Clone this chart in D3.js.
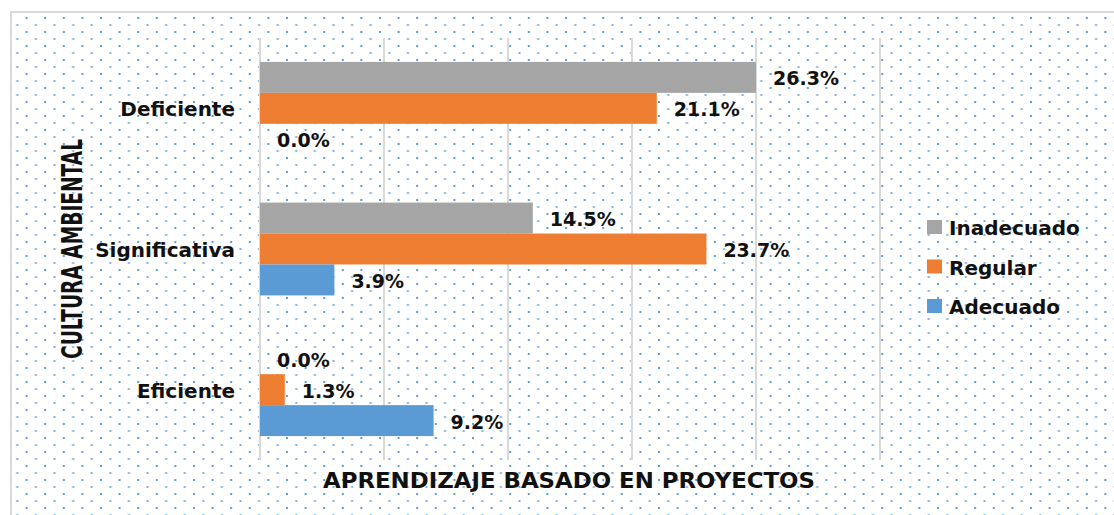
<!DOCTYPE html>
<meta charset="utf-8">
<style>
    body {margin: 0; background: #fff;}
    text {font-family: "DejaVu Sans", Verdana, sans-serif; font-weight: bold; fill: #111;}
</style>
<body>
<svg width="1114" height="515"></svg>
<script src="https://d3js.org/d3.v7.min.js"></script>
<script>

// counts out of n = 76 students, labels show the percentage
var total = 76;
var categories = ["Deficiente", "Significativa", "Eficiente"];
var series = ["Inadecuado", "Regular", "Adecuado"];
var inadecuado = [20, 11, 0];
var regular = [16, 18, 1];
var adecuado = [0, 3, 7];
var xTicks = [0, 5, 10, 15, 20, 25];
var colors = ["#a5a5a5", "#ed7d31", "#5b9bd5"];

var values = [inadecuado, regular, adecuado];

var svg = d3.select("svg"),
    width = +svg.attr("width"),
    height = +svg.attr("height");

// dotted fill like the excel pattern
var defs = svg.append("defs");
var pat = defs.append("pattern")
    .attr("id", "dots")
    .attr("patternUnits", "userSpaceOnUse")
    .attr("x", 7).attr("y", 3)
    .attr("width", 18.6).attr("height", 14);
pat.append("rect").attr("x", 0).attr("y", 0).attr("width", 2).attr("height", 2).attr("fill", "#5f9ddb");
pat.append("rect").attr("x", 9.3).attr("y", 7).attr("width", 2).attr("height", 2).attr("fill", "#7fb0e0");

svg.append("rect")
    .attr("x", 11).attr("y", 12)
    .attr("width", width - 11).attr("height", height - 12)
    .attr("fill", "url(#dots)");

svg.append("path")
    .attr("d", "M11," + height + "V12H" + width)
    .attr("fill", "none")
    .attr("stroke", "#d9d9d9")
    .attr("stroke-width", 2);

var x = d3.scaleLinear().domain([0, 25]).range([260, 880]);

var y = d3.scaleBand()
    .domain(categories)
    .range([38, 460])
    .paddingInner(0.34)
    .paddingOuter(0.17);

var y1 = d3.scaleBand()
    .domain(series)
    .range([0, y.bandwidth()]);

// gridlines
svg.append("g")
    .selectAll("line")
    .data(xTicks)
    .enter().append("line")
    .attr("x1", function(d) { return x(d); })
    .attr("x2", function(d) { return x(d); })
    .attr("y1", 38)
    .attr("y2", 460)
    .attr("stroke", "#d9d9d9")
    .attr("stroke-width", 2);

var rows = [];
categories.forEach(function(c, i) {
  series.forEach(function(s, j) {
    rows.push({cat: c, ser: s, idx: j, v: values[j][i]});
  });
});

svg.append("g")
    .selectAll("rect")
    .data(rows)
    .enter().append("rect")
    .attr("x", x(0))
    .attr("y", function(d) { return y(d.cat) + y1(d.ser); })
    .attr("width", function(d) { return x(d.v) - x(0); })
    .attr("height", y1.bandwidth())
    .attr("fill", function(d) { return colors[d.idx]; });

svg.append("g")
    .selectAll("text")
    .data(rows)
    .enter().append("text")
    .attr("x", function(d) { return x(d.v) + 17; })
    .attr("y", function(d) { return y(d.cat) + y1(d.ser) + y1.bandwidth() / 2 + 1; })
    .attr("dominant-baseline", "central")
    .style("font-size", "19px")
    .text(function(d) { return (d.v / total * 100).toFixed(1) + "%"; });

// category labels
svg.append("g")
    .selectAll("text")
    .data(categories)
    .enter().append("text")
    .attr("x", 235)
    .attr("y", function(d) { return y(d) + y.bandwidth() / 2 + 1; })
    .attr("text-anchor", "end")
    .attr("dominant-baseline", "central")
    .style("font-size", "20px")
    .text(function(d) { return d; });

// legend
var legend = svg.append("g")
    .selectAll("g")
    .data(series)
    .enter().append("g")
    .attr("transform", function(d, i) { return "translate(927," + (227 + i * 39.5) + ")"; });

legend.append("rect")
    .attr("x", 0).attr("y", -7)
    .attr("width", 15).attr("height", 14)
    .attr("fill", function(d, i) { return colors[i]; });

legend.append("text")
    .attr("x", 22)
    .attr("y", 1)
    .attr("dominant-baseline", "central")
    .style("font-size", "20px")
    .text(function(d) { return d; });

// axis titles
svg.append("text")
    .attr("x", 569)
    .attr("y", 481)
    .attr("text-anchor", "middle")
    .attr("dominant-baseline", "central")
    .attr("textLength", 492)
    .attr("lengthAdjust", "spacingAndGlyphs")
    .style("font-size", "21px")
    .text("APRENDIZAJE BASADO EN PROYECTOS");

svg.append("text")
    .attr("transform", "translate(72,249) rotate(-90)")
    .attr("text-anchor", "middle")
    .attr("dominant-baseline", "central")
    .attr("textLength", 220)
    .attr("lengthAdjust", "spacingAndGlyphs")
    .style("font-family", "'DejaVu Sans Condensed', 'Liberation Sans Narrow', sans-serif")
    .style("font-size", "29px")
    .text("CULTURA AMBIENTAL");

</script>
</body>
